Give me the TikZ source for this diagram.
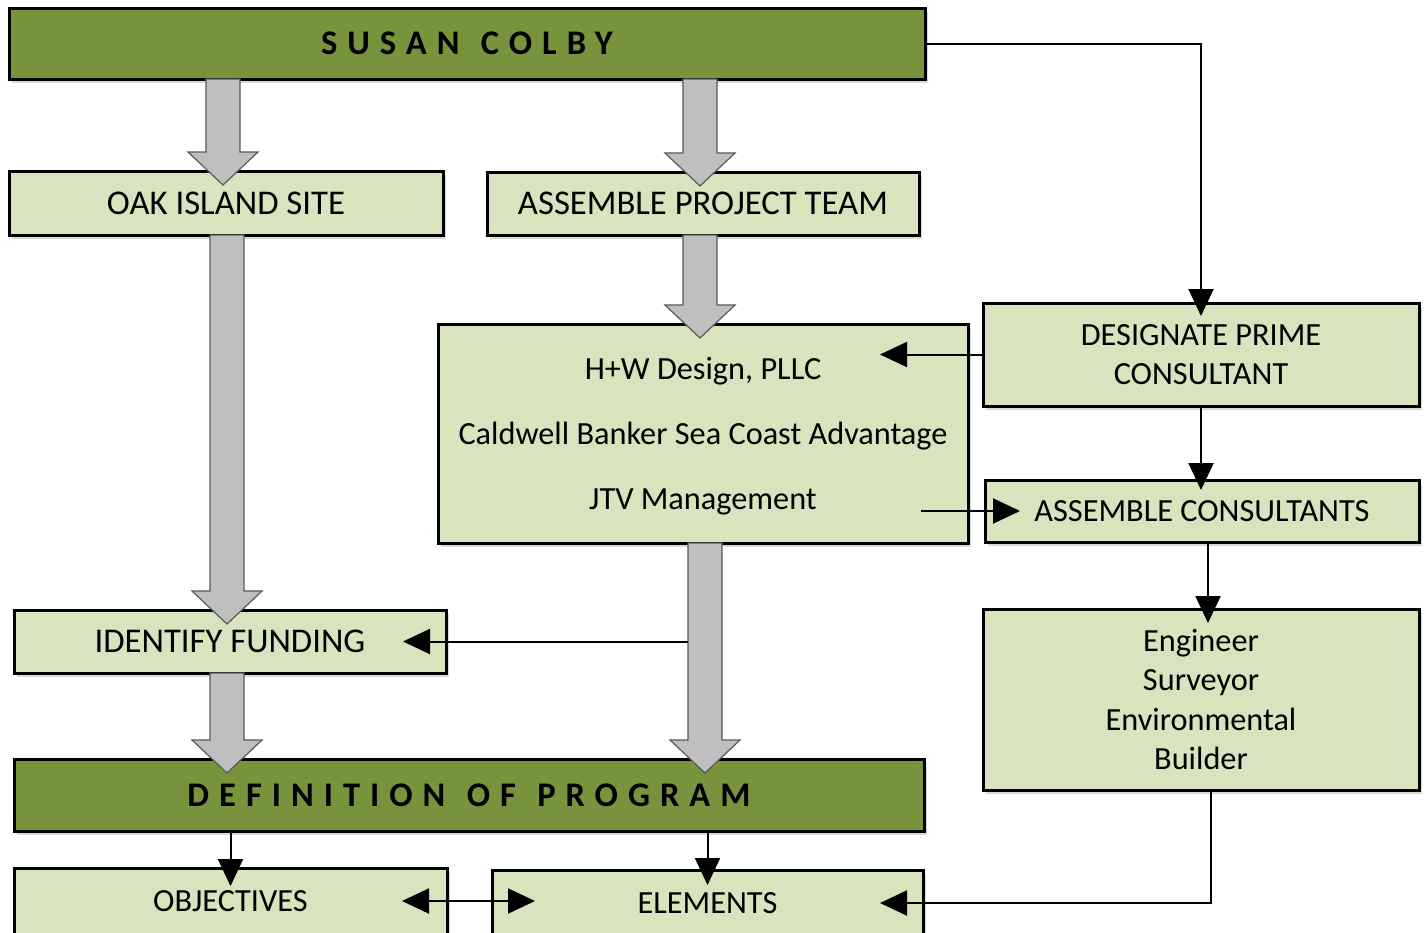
\documentclass[tikz,border=0pt]{standalone}
\usepackage{fontspec}
\setmainfont{Carlito}
\newfontfamily\titlefont[LetterSpace=29,WordSpace=1.2]{Carlito}
\usetikzlibrary{arrows.meta,calc,shadows}
\definecolor{dkgreen}{HTML}{77933C}
\definecolor{ltgreen}{HTML}{D7E4BD}
\definecolor{blkgray}{HTML}{BFBFBF}
\definecolor{blkedge}{HTML}{595959}
\tikzset{
  box/.style={draw=black, line width=3pt, fill=ltgreen, outer sep=0pt, inner sep=0pt,
    align=center, font=\fontsize{32.3}{39}\selectfont,
    drop shadow={shadow xshift=3pt,shadow yshift=-4pt,opacity=0.3}},
  bigtext/.style={font=\fontsize{34.7}{39}\selectfont},
  titlebox/.style={box, fill=dkgreen, font=\titlefont\bfseries\fontsize{34.5}{39}\selectfont},
  conn/.style={draw=black, line width=2pt, -{Triangle[length=27pt,width=25pt]}},
  dconn/.style={draw=black, line width=2pt, {Triangle[length=27pt,width=25pt]}-{Triangle[length=27pt,width=25pt]}},
  blk/.style={draw=blkedge, line width=1.2pt, fill=blkgray, line join=miter},
}
% #1 reference anchor for x, #2 x shift, #3 source node, #4 target node
\newcommand\blkarrow[4]{%
  \path[blk] let \p1=([xshift=#2]#1), \p2=(#3.south), \p3=(#4.north) in
   (\x1-17pt,\y2) -- (\x1+17pt,\y2) -- (\x1+17pt,\y3+19pt) -- (\x1+35pt,\y3+19pt)
   -- (\x1,\y3-14pt) -- (\x1-35pt,\y3+19pt) -- (\x1-17pt,\y3+19pt) -- cycle;}
\begin{document}
\begin{tikzpicture}[x=1pt,y=-1pt]
\useasboundingbox (0,0) rectangle (1426,932);
\clip (0,0) rectangle (1426,932);
\fill[white] (0,0) rectangle (1426,932);
% boxes
\node[titlebox, minimum width=916pt, minimum height=71pt] (susan) at (467,43.5) {SUSAN COLBY};
\node[box, bigtext, minimum width=434pt, minimum height=64pt] (oak) at (226,203) {OAK ISLAND SITE};
\node[box, bigtext, minimum width=432pt, minimum height=63pt] (team) at (703,203.5) {ASSEMBLE PROJECT TEAM};
\node[box, minimum width=530pt, minimum height=219pt] (hw) at (703,433.5) {};
\node[font=\fontsize{32.3}{65}\selectfont, align=center] (hwtext) at (703,436.5)
  {H+W Design, PLLC\\Caldwell Banker Sea Coast Advantage\\JTV Management};
\node[box, minimum width=436pt, minimum height=103pt] (designate) at (1201,354.5) {DESIGNATE PRIME\\CONSULTANT};
\node[box, minimum width=434pt, minimum height=62pt] (consult) at (1202,511) {ASSEMBLE CONSULTANTS};
\node[box, minimum width=436pt, minimum height=181pt, font=\fontsize{32.3}{39.3}\selectfont] (engineer) at (1201,699.5)
  {Engineer\\Surveyor\\Environmental\\Builder};
\node[box, bigtext, minimum width=432pt, minimum height=63pt] (funding) at (230,641.5) {IDENTIFY FUNDING};
\node[titlebox, minimum width=910pt, minimum height=72pt] (def) at (469,795) {DEFINITION OF PROGRAM};
\node[box, minimum width=433pt, minimum height=66pt] (objectives) at (230.5,901) {OBJECTIVES};
\node[box, minimum width=431pt, minimum height=66pt] (elements) at (707.5,903) {ELEMENTS};
% block arrows
\blkarrow{oak.north}{-3pt}{susan}{oak}
\blkarrow{team.north}{-3pt}{susan}{team}
\blkarrow{hw.north}{-3pt}{team}{hw}
\blkarrow{oak.south}{1pt}{oak}{funding}
\blkarrow{funding.south}{-3pt}{funding}{def}
\blkarrow{hw.south}{2pt}{hw}{def}
% thin connectors
\coordinate (tap) at ([xshift=-15pt]hw.south |- funding.east);
\coordinate (hwout) at ([xshift=-47pt]hw.east |- consult.west);
\draw[conn, shorten >=-13pt] (susan.east) -| (designate.north);
\draw[conn, shorten >=-88pt] (designate.west) -- (designate.west -| hw.east);
\draw[conn, shorten >=-10pt] (designate.south) -- (designate.south |- consult.north);
\draw[conn, shorten >=-35pt] (hwout) -- (consult.west);
\draw[conn, shorten >=-14pt] ([xshift=6pt]consult.south) -- ([xshift=6pt]consult.south |- engineer.north);
\draw[conn, shorten >=-43pt] ([xshift=10pt]engineer.south) |- (elements.east);
\draw[conn, shorten >=-43pt] (tap) -- (funding.east);
\draw[conn, shorten >=-18pt] (def.south -| objectives.north) -- (objectives.north);
\draw[conn, shorten >=-15pt] (def.south -| elements.north) -- (elements.north);
\draw[dconn, shorten >=-43pt, shorten <=-45pt] (objectives.east) -- (objectives.east -| elements.west);
\end{tikzpicture}
\end{document}
